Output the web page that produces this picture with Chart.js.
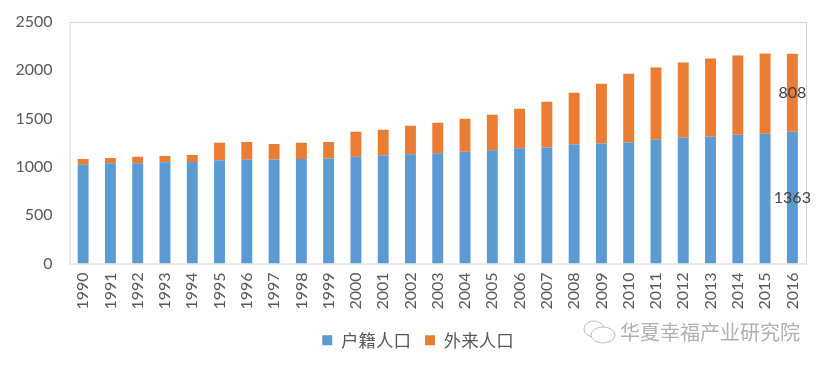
<!DOCTYPE html>
<html>
<head>
<meta charset="utf-8">
<script src="https://cdn.jsdelivr.net/npm/chart.js@4/dist/chart.umd.min.js"></script>
<style>
    html, body { margin: 0; padding: 0; background: #fff; }
    #wrap { position: relative; width: 827px; height: 366px; overflow: hidden; }
    #mark { position: absolute; left: 620px; top: 317px; font: 20px "Noto Sans CJK SC"; color: #b0b0b0; white-space: nowrap; }
    #icon { position: absolute; left: 580px; top: 318px; }
</style>
</head>
<body>
<div id="wrap">
    <canvas id="myChart" width="827" height="366"></canvas>
    <svg id="icon" width="40" height="28" fill="none" stroke="#bbbbbb" stroke-width="1">
        <ellipse cx="14" cy="11" rx="10" ry="8"/>
        <ellipse cx="23" cy="17" rx="12" ry="8" fill="#fff"/>
    </svg>
    <div id="mark">华夏幸福产业研究院</div>
</div>
<script>
    let years = ['1990', '1991', '1992', '1993', '1994', '1995', '1996', '1997', '1998', '1999', '2000', '2001', '2002', '2003', '2004', '2005', '2006', '2007', '2008', '2009', '2010', '2011', '2012', '2013', '2014', '2015', '2016'];
    let huji = [1021, 1038, 1038, 1048, 1052, 1069, 1073, 1076, 1083, 1087, 1104, 1118, 1131, 1142, 1156, 1173, 1194, 1201, 1232, 1242, 1252, 1280, 1301, 1311, 1332, 1342, 1363];
    let wailai = [62, 55, 66, 66, 72, 180, 186, 162, 166, 172, 259, 266, 295, 315, 342, 367, 408, 474, 536, 619, 713, 748, 779, 810, 820, 831, 808];

    const tickFont = {family: 'Lato', size: 16};

    // Excel style frame round the plot, there are no grid lines
    let framePlugin = {
        id: 'frame',
        beforeDatasetsDraw: function(chart){
            let a = chart.chartArea;
            chart.ctx.save();
            chart.ctx.strokeStyle = '#d4d4d4';
            chart.ctx.lineWidth = 1;
            chart.ctx.strokeRect(a.left + 0.5, a.top + 0.5, a.width, a.height);
            chart.ctx.restore();
        }
    };

    // only the last bar has value labels
    let lastLabelPlugin = {
        id: 'lastLabel',
        afterDatasetsDraw: function(chart){
            let ctx = chart.ctx;
            ctx.save();
            ctx.font = '16px Lato';
            ctx.fillStyle = '#404040';
            ctx.textAlign = 'center';
            ctx.textBaseline = 'middle';
            chart.data.datasets.forEach(function(ds, i){
                let last = ds.data.length - 1;
                let bar = chart.getDatasetMeta(i).data[last];
                ctx.fillText(ds.data[last], bar.x, (bar.y + bar.base) / 2);
            });
            ctx.restore();
        }
    };

    // legend sits right of the canvas centre in the original
    let legendShiftPlugin = {
        id: 'legendShift',
        afterLayout: function(chart){
            chart.legend.left += 15;
            chart.legend.right += 15;
        }
    };

    new Chart(document.getElementById('myChart'), {
        type: 'bar',
        data: {
            labels: years,
            datasets: [
                {label: '户籍人口', data: huji, backgroundColor: '#5b9ad3', barPercentage: 0.4, categoryPercentage: 1},
                {label: '外来人口', data: wailai, backgroundColor: '#ea7d33', barPercentage: 0.4, categoryPercentage: 1}
            ]
        },
        plugins: [framePlugin, lastLabelPlugin, legendShiftPlugin],
        options: {
            responsive: false,
            animation: false,
            layout: {autoPadding: false, padding: {top: 22, right: 21, left: 0, bottom: 7}},
            scales: {
                x: {
                    stacked: true,
                    grid: {display: false},
                    border: {display: false},
                    afterFit: function(scale){ scale.height = 54; },
                    ticks: {font: tickFont, color: '#595959', minRotation: 90, maxRotation: 90, autoSkip: false, padding: 1}
                },
                y: {
                    stacked: true,
                    min: 0,
                    max: 2500,
                    grid: {display: false},
                    border: {display: false},
                    afterFit: function(scale){ scale.width = 69.5; },
                    ticks: {
                        font: tickFont,
                        color: '#595959',
                        stepSize: 500,
                        padding: 9,
                        callback: function(value){
                            return value;
                        }
                    }
                }
            },
            plugins: {
                tooltip: {enabled: false},
                legend: {
                    position: 'bottom',
                    labels: {boxWidth: 10, boxHeight: 10, color: '#595959', padding: 14, font: {family: 'Noto Sans CJK SC', size: 17.5}}
                }
            }
        }
    });
</script>
</body>
</html>
